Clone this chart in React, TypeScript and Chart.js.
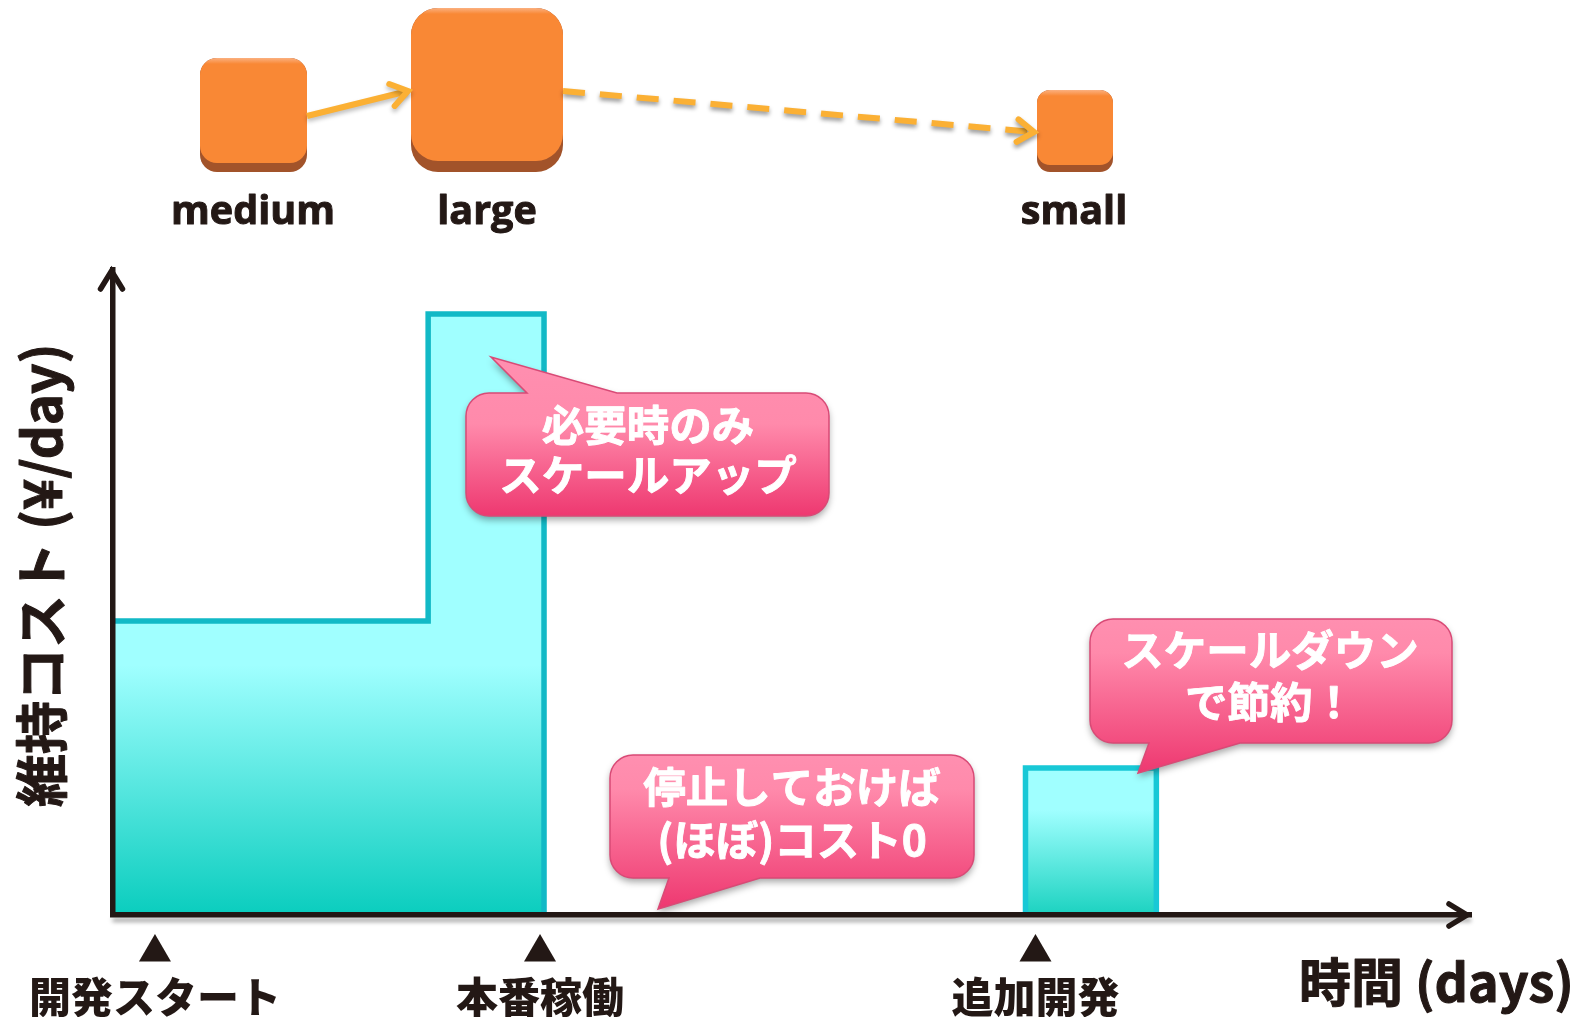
import React, { useEffect, useRef } from "react";
import { Chart, registerables } from "chart.js";

Chart.register(...registerables);

// ---- data ----
const baseDays = [0, 31.6, 43.2];
const baseCost = [29.4, 60.1, 0];
const addDevDays = [91.4, 91.4, 104.5];
const addDevCost = [0, 14.7, 0];
const milestoneDays = [4.25, 42.8, 92.4];
const milestoneMarkerLevel = [-3.75, -3.75, -3.75];
const milestoneLabels = ["開発スタート", "本番稼働", "追加開発"];
const instanceNames = ["medium", "large", "small"];
const callout1 = ["必要時のみ", "スケールアップ"];
const callout2 = ["停止しておけば", "(ほぼ)コスト0"];
const callout3 = ["スケールダウン", "で節約！"];
const xTitle = "時間 (days)";
const yTitle = "維持コスト (¥/day)";

const CJK = '"Noto Sans CJK JP", "Noto Sans", sans-serif';
const INK = "#231815";

function rr(ctx: any, x: number, y: number, w: number, h: number, r: number) {
  ctx.beginPath();
  ctx.roundRect(x, y, w, h, r);
}

function heavyText(ctx: any, s: string, x: number, y: number, color: string, w: number) {
  ctx.fillStyle = color;
  ctx.strokeStyle = color;
  ctx.lineWidth = w;
  ctx.lineJoin = "round";
  ctx.strokeText(s, x, y);
  ctx.fillText(s, x, y);
}

function drawInstance(ctx: any, x0: number, y0: number, x1: number, y1: number, r: number, lip: number, name: string, tx: number, ty: number) {
  ctx.save();
  rr(ctx, x0, y0, x1 - x0, y1 - y0, r);
  ctx.fillStyle = "#A2532A";
  ctx.fill();
  const g = ctx.createLinearGradient(0, y0, 0, y0 + 6);
  g.addColorStop(0, "#FBB080");
  g.addColorStop(1, "#F98835");
  rr(ctx, x0, y0, x1 - x0, y1 - y0 - lip, r);
  ctx.fillStyle = g;
  ctx.fill();
  ctx.font = 'bold 39.5px "Open Sans", sans-serif';
  ctx.textAlign = "center";
  ctx.textBaseline = "alphabetic";
  heavyText(ctx, name, tx, ty, INK, 1);
  ctx.restore();
}

function drawArrow(ctx: any, a: number[], b: number[], dash: number[], color: string, w: number, head: number) {
  ctx.save();
  ctx.shadowColor = dash.length ? "rgba(0,0,0,0.4)" : "rgba(0,0,0,0.25)";
  ctx.shadowBlur = 4;
  ctx.shadowOffsetY = 3;
  ctx.strokeStyle = color;
  ctx.lineWidth = w;
  ctx.setLineDash(dash);
  ctx.beginPath();
  ctx.moveTo(a[0], a[1]);
  ctx.lineTo(b[0], b[1]);
  ctx.stroke();
  ctx.setLineDash([]);
  const t = Math.atan2(b[1] - a[1], b[0] - a[0]);
  ctx.lineCap = "round";
  ctx.lineJoin = "miter";
  ctx.beginPath();
  ctx.moveTo(b[0] - head * Math.cos(t - 0.6), b[1] - head * Math.sin(t - 0.6));
  ctx.lineTo(b[0], b[1]);
  ctx.lineTo(b[0] - head * Math.cos(t + 0.6), b[1] - head * Math.sin(t + 0.6));
  ctx.stroke();
  ctx.restore();
}

function drawCallout(ctx: any, x0: number, y0: number, x1: number, y1: number, tail: number[][], lines: string[], cx: number, ys: number[]) {
  const r = 23;
  const [tip, b0, b1] = tail;
  const top = tip[1] < y0;
  ctx.save();
  ctx.beginPath();
  ctx.moveTo(x0 + r, y0);
  if (top) {
    ctx.lineTo(b0[0], y0);
    ctx.lineTo(tip[0], tip[1]);
    ctx.lineTo(b1[0], y0);
  }
  ctx.arcTo(x1, y0, x1, y1, r);
  ctx.arcTo(x1, y1, x0, y1, r);
  if (!top) {
    ctx.lineTo(b1[0], y1);
    ctx.lineTo(tip[0], tip[1]);
    ctx.lineTo(b0[0], y1);
  }
  ctx.arcTo(x0, y1, x0, y0, r);
  ctx.arcTo(x0, y0, x1, y0, r);
  ctx.closePath();
  const gy0 = Math.min(y0, tip[1]);
  const gy1 = Math.max(y1, tip[1]);
  const g = ctx.createLinearGradient(0, gy0, 0, gy1);
  g.addColorStop(0, "#FF8FB0");
  g.addColorStop(top ? 0.42 : 0.22, "#FF8AAB");
  g.addColorStop(1, "#EE3870");
  ctx.fillStyle = g;
  ctx.shadowColor = "rgba(0,0,0,0.35)";
  ctx.shadowBlur = 7;
  ctx.shadowOffsetY = 4;
  ctx.fill();
  ctx.shadowColor = "transparent";
  ctx.strokeStyle = "#D94A76";
  ctx.lineWidth = 1.5;
  ctx.stroke();
  ctx.font = `bold 42.5px ${CJK}`;
  ctx.textAlign = "center";
  ctx.textBaseline = "middle";
  lines.forEach((l, i) => heavyText(ctx, l, cx, ys[i], "#FFFFFF", 0.9));
  ctx.restore();
}

const decorations = {
  id: "decorations",
  afterDatasetsDraw(chart: any) {
    const { ctx, chartArea: a } = chart;
    // soft shadow below the time axis
    ctx.save();
    ctx.strokeStyle = "rgba(0,0,0,0.35)";
    ctx.filter = "blur(2px)";
    ctx.lineWidth = 4;
    ctx.beginPath();
    ctx.moveTo(a.left, a.bottom + 5);
    ctx.lineTo(a.right, a.bottom + 5);
    ctx.stroke();
    ctx.restore();
  },
  afterDraw(chart: any) {
    const { ctx, chartArea: a, scales } = chart;
    ctx.save();
    ctx.strokeStyle = INK;
    ctx.lineWidth = 5.5;
    ctx.lineCap = "round";
    ctx.lineJoin = "miter";
    // axis arrow heads
    ctx.beginPath();
    ctx.moveTo(a.left - 12, a.top + 19);
    ctx.lineTo(a.left - 1, a.top + 1);
    ctx.lineTo(a.left + 10, a.top + 19);
    ctx.moveTo(a.right - 22, a.bottom - 11);
    ctx.lineTo(a.right - 4, a.bottom);
    ctx.lineTo(a.right - 22, a.bottom + 11);
    ctx.stroke();
    ctx.restore();

    // milestone markers, placed through the scales
    ctx.save();
    ctx.fillStyle = INK;
    milestoneDays.forEach((d, i) => {
      const x = scales.x.getPixelForValue(d);
      const y = scales.y.getPixelForValue(milestoneMarkerLevel[i]);
      ctx.beginPath();
      ctx.moveTo(x, y - 18.5);
      ctx.lineTo(x + 16, y + 9);
      ctx.lineTo(x - 16, y + 9);
      ctx.closePath();
      ctx.fill();
    });
    ctx.restore();

    // axis titles
    ctx.save();
    ctx.font = `bold 52px ${CJK}`;
    ctx.textAlign = "right";
    ctx.textBaseline = "middle";
    heavyText(ctx, xTitle, 1574, 982, INK, 1);
    ctx.translate(40, 807);
    ctx.rotate(-Math.PI / 2);
    ctx.font = `bold 53px ${CJK}`;
    ctx.textAlign = "left";
    heavyText(ctx, yTitle, 0, 2, INK, 1);
    ctx.restore();

    // instance sizes
    drawInstance(ctx, 200, 58, 307, 172, 17, 9, instanceNames[0], 253, 224);
    drawInstance(ctx, 411, 8, 563, 172, 27, 11, instanceNames[1], 487, 224);
    drawInstance(ctx, 1037, 90, 1113, 172, 13, 7, instanceNames[2], 1074, 224);
    drawArrow(ctx, [307, 116], [408, 91], [], "#FBB034", 6, 20);
    drawArrow(ctx, [563, 91], [1034, 132], [22, 15], "#FBB034", 6, 20);

    // callouts
    drawCallout(ctx, 466, 393, 829, 516, [[491, 357], [527, 393], [617, 393]], callout1, 648, [425, 475]);
    drawCallout(ctx, 610, 755, 974, 878, [[658, 909], [669, 878], [760, 878]], callout2, 792, [787, 840]);
    drawCallout(ctx, 1090, 619, 1452, 743, [[1138, 773], [1149, 743], [1240, 743]], callout3, 1270, [650, 702]);
  },
};

export default function App() {
  const ref = useRef<HTMLCanvasElement | null>(null);
  useEffect(() => {
    document.body.style.margin = "0";
    document.body.style.background = "#FFFFFF";
    const fillFor = (stopRatio: number, end: string) => (c: any) => {
      const { chart } = c;
      const area = chart.chartArea;
      if (!area) return "#A0FFFF";
      const y = chart.scales.y;
      const top = y.getPixelForValue(stopRatio);
      const g = chart.ctx.createLinearGradient(0, top, 0, y.getPixelForValue(0));
      g.addColorStop(0, "#A0FFFF");
      g.addColorStop(1, end);
      return g;
    };
    const chart = new Chart(ref.current as any, {
      type: "line",
      data: {
        datasets: [
          {
            label: "本番環境",
            data: baseDays.map((x, i) => ({ x, y: baseCost[i] })),
            stepped: "before",
            borderColor: "#12B9C6",
            borderWidth: 5.5,
            borderCapStyle: "butt",
            borderJoinStyle: "miter",
            pointRadius: 0,
            fill: "origin",
            backgroundColor: fillFor(25, "#0ACDBE"),
            clip: false,
          },
          {
            label: "追加開発",
            data: addDevDays.map((x, i) => ({ x, y: addDevCost[i] })),
            stepped: "before",
            borderColor: "#18C8D6",
            borderWidth: 5.5,
            borderCapStyle: "butt",
            borderJoinStyle: "miter",
            pointRadius: 0,
            fill: "origin",
            backgroundColor: fillFor(10.5, "#1BD2C0"),
            clip: false,
          },
        ],
      } as any,
      options: {
        responsive: false,
        animation: false,
        layout: { padding: { top: 270, right: 120, left: 0, bottom: 0 } },
        plugins: { legend: { display: false }, tooltip: { enabled: false } },
        scales: {
          x: {
            type: "linear",
            min: 0,
            max: 136,
            grid: { display: false, drawTicks: false },
            border: { display: true, color: INK, width: 5.5, z: 1 },
            afterBuildTicks: (s: any) => {
              s.ticks = milestoneDays.map((value) => ({ value }));
            },
            afterFit: (s: any) => {
              s.height = 102;
              s.paddingLeft = 0;
              s.paddingRight = 0;
            },
            ticks: {
              autoSkip: false,
              maxRotation: 0,
              minRotation: 0,
              padding: 57,
              color: INK,
              font: { family: CJK, size: 42, weight: "900", lineHeight: 1.2 },
              callback: (v: any) => milestoneLabels[milestoneDays.indexOf(v)],
            },
          },
          y: {
            type: "linear",
            min: 0,
            max: 64.5,
            grid: { display: false, drawTicks: false },
            border: { display: true, color: INK, width: 5.5, z: 1 },
            ticks: { display: false },
            afterFit: (s: any) => {
              s.width = 112.5;
            },
          },
        },
      } as any,
      plugins: [decorations] as any,
    });
    return () => chart.destroy();
  }, []);
  return (
    <canvas
      ref={ref}
      width={1591}
      height={1017}
      style={{ display: "block", position: "absolute", left: 0, top: 0 }}
    />
  );
}
